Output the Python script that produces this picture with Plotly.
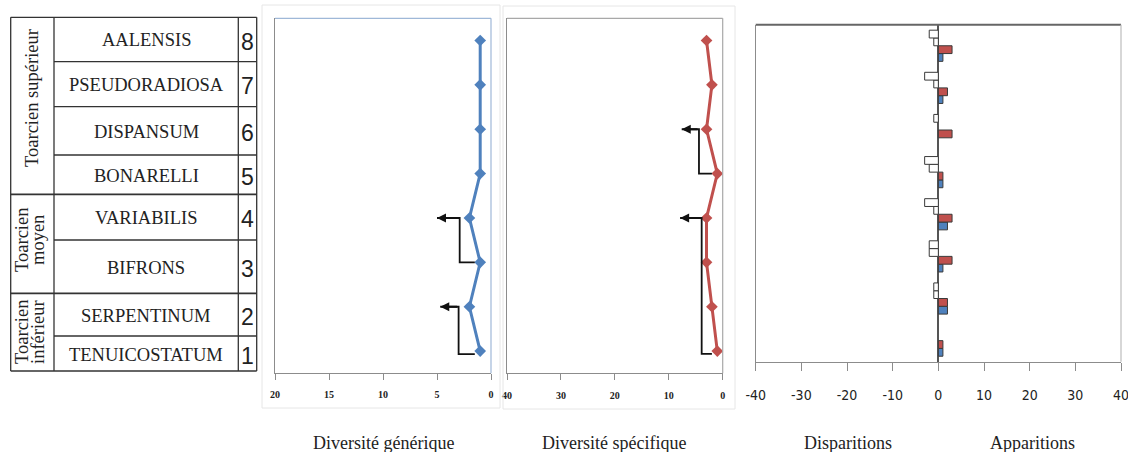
import plotly.graph_objects as go

W, H = 1128, 452

# ---------------- data ----------------
niveaux = [1, 2, 3, 4, 5, 6, 7, 8]
zones = ["TENUICOSTATUM", "SERPENTINUM", "BIFRONS", "VARIABILIS",
         "BONARELLI", "DISPANSUM", "PSEUDORADIOSA", "AALENSIS"]
etages = [["Toarcien", "inférieur"], ["Toarcien", "moyen"], ["Toarcien supérieur"]]

diversite_generique = [1, 2, 1, 2, 1, 1, 1, 1]
diversite_specifique = [1, 2, 3, 3, 1, 3, 2, 3]

disparitions_especes = [0, 1, 2, 3, 3, 1, 3, 2]
disparitions_genres = [0, 1, 2, 1, 2, 0, 1, 1]
apparitions_especes = [1, 2, 3, 3, 1, 3, 2, 3]
apparitions_genres = [1, 2, 1, 2, 1, 0, 1, 1]

ticks_gen = [20, 15, 10, 5, 0]
ticks_spe = [40, 30, 20, 10, 0]
ticks_app = [-40, -30, -20, -10, 0, 10, 20, 30, 40]
tick_app_labels = ["-40", "-30", "-20", "-10", "0", "10", "20", "30", "40"]

# bracket arrows: (start x, start level, elbow x, end level, head x)
fleches_gen = [(1.5, 3.0, 2.9, 4.0, 5.0), (1.5, 0.93, 3.0, 2.0, 4.7)]
fleches_spe = [(2.0, 5.0, 4.4, 6.0, 7.6), (2.0, 0.94, 3.9, 4.0, 7.9)]

titres = ["Diversité générique", "Diversité spécifique", "Disparitions", "Apparitions"]

# ---------------- helpers ----------------
def px(x):
    return x / W

def py(y):
    return 1 - y / H

BLUE = "#4F81BD"
RED = "#C0504D"
SERIF = "Liberation Serif, Times New Roman, serif"

fig = go.Figure()

# panel 1: generic diversity
fig.add_trace(go.Scatter(x=diversite_generique, y=niveaux, mode="lines+markers",
                         line=dict(color=BLUE, width=3),
                         marker=dict(symbol="diamond", size=9, color=BLUE),
                         xaxis="x", yaxis="y", showlegend=False))
# panel 2: specific diversity
fig.add_trace(go.Scatter(x=diversite_specifique, y=niveaux, mode="lines+markers",
                         line=dict(color=RED, width=3),
                         marker=dict(symbol="diamond", size=9, color=RED),
                         xaxis="x2", yaxis="y2", showlegend=False))

# panel 3: bars (bottom to top inside each group)
def nz(vals, sign=1):
    return [sign * v if v else None for v in vals]

bar_series = [
    (nz(apparitions_genres), BLUE),
    (nz(apparitions_especes), RED),
    (nz(disparitions_genres, -1), "white"),
    (nz(disparitions_especes, -1), "white"),
]
for vals, col in bar_series:
    fig.add_trace(go.Bar(x=vals, y=niveaux, orientation="h",
                         marker=dict(color=col, line=dict(color="#3a3a3a", width=1)),
                         xaxis="x3", yaxis="y3", showlegend=False))

# ---------------- axes ----------------
ydom1 = [py(373.3), py(18.3)]
ydom3 = [py(361.7), py(24.7)]
X3R = 1121

common_y = dict(range=[0.5, 8.5], showticklabels=False, ticks="", showgrid=False,
                zeroline=False, showline=True, linecolor="#8c8c8c", linewidth=1.2)

small_tick_font = dict(family=SERIF, size=10, color="#222", weight="bold")

fig.update_layout(
    width=W, height=H, margin=dict(l=0, r=0, t=0, b=0, autoexpand=False),
    paper_bgcolor="white", plot_bgcolor="white",
    barmode="group", bargap=0.26, bargroupgap=0,
    xaxis=dict(domain=[px(275), px(491)], range=[20, 0], tickvals=ticks_gen,
               ticks="outside", ticklen=6, tickcolor="#8c8c8c",
               showline=True, linecolor="#8c8c8c", linewidth=1.2,
               showgrid=False, zeroline=False, ticklabelstandoff=6,
               tickfont=small_tick_font, anchor="y"),
    yaxis=dict(domain=ydom1, anchor="x", **common_y),
    xaxis2=dict(domain=[px(507), px(722.7)], range=[40, 0], tickvals=ticks_spe,
                ticks="outside", ticklen=6, tickcolor="#8c8c8c",
                showline=True, linecolor="#8c8c8c", linewidth=1.2,
                showgrid=False, zeroline=False, ticklabelstandoff=7,
                tickfont=small_tick_font, anchor="y2"),
    yaxis2=dict(domain=ydom1, anchor="x2", **common_y),
    xaxis3=dict(domain=[px(755.7), px(X3R)], range=[-40, 40], tickvals=ticks_app,
                ticktext=tick_app_labels, ticklabeloverflow="allow",
                ticks="outside", ticklen=8, tickcolor="#8c8c8c",
                showline=True, linecolor="#8c8c8c", linewidth=1.2,
                showgrid=False, zeroline=True, zerolinecolor="#555", zerolinewidth=1.5,
                ticklabelstandoff=12,
                tickfont=dict(family="DejaVu Sans Condensed, Liberation Sans Narrow, sans-serif",
                              size=14, color="#222"), anchor="y3"),
    yaxis3=dict(domain=ydom3, anchor="x3", **common_y),
)

shapes = []
annotations = []

# faint chart-area frames
for (x0, y0, x1, y1) in [(262, 5, 500, 408), (503, 6, 735, 409)]:
    shapes.append(dict(type="rect", xref="paper", yref="paper",
                       x0=px(x0), x1=px(x1), y0=py(y1), y1=py(y0),
                       line=dict(color="#e6e6e6", width=1)))

# plot frames top / right
shapes += [
    dict(type="line", xref="paper", yref="paper", x0=px(275), x1=px(491), y0=py(18.3), y1=py(18.3),
         line=dict(color="#9fb8d8", width=1.2)),
    dict(type="line", xref="paper", yref="paper", x0=px(491), x1=px(491), y0=py(18.3), y1=py(373.3),
         line=dict(color="#9fb8d8", width=1.2)),
    dict(type="line", xref="paper", yref="paper", x0=px(507), x1=px(722.7), y0=py(18.3), y1=py(18.3),
         line=dict(color="#a8a8a8", width=1.2)),
    dict(type="line", xref="paper", yref="paper", x0=px(722.7), x1=px(722.7), y0=py(18.3), y1=py(373.3),
         line=dict(color="#a8a8a8", width=1.2)),
    dict(type="line", xref="paper", yref="paper", x0=px(755.7), x1=px(X3R), y0=py(24.7), y1=py(24.7),
         line=dict(color="#666", width=2)),
    dict(type="line", xref="paper", yref="paper", x0=px(X3R), x1=px(X3R), y0=py(24.7), y1=py(361.7),
         line=dict(color="#bdbdbd", width=1.2)),
]

# bracket arrows
for (xr, yr, fl) in [("x", "y", fleches_gen), ("x2", "y2", fleches_spe)]:
    for (xs, ys, xe, ye, xh) in fl:
        shapes.append(dict(type="path", xref=xr, yref=yr,
                           path=f"M {xs},{ys} L {xe},{ys} L {xe},{ye} L {xh},{ye}",
                           line=dict(color="#111", width=1.8)))
        annotations.append(dict(x=xh, y=ye, ax=xe, ay=ye, xref=xr, yref=yr, axref=xr, ayref=yr,
                                text="", showarrow=True, arrowhead=2, arrowsize=1.0,
                                arrowwidth=1.8, arrowcolor="#111"))

# ---------------- stratigraphic table ----------------
xl, xz, xn, xr_ = 10.7, 54, 238.3, 256.7
rows = [371, 336, 293.3, 240, 194.3, 155, 106.7, 61.7, 17.3]  # bottom to top boundaries
stage_bounds = [293.3, 194.3]
LC = "#333"
for x in [xl, xz, xn, xr_]:
    shapes.append(dict(type="line", xref="paper", yref="paper", x0=px(x), x1=px(x),
                       y0=py(rows[0]), y1=py(rows[-1]), line=dict(color=LC, width=1.3)))
for y in rows:
    full = y in stage_bounds or y in (rows[0], rows[-1])
    shapes.append(dict(type="line", xref="paper", yref="paper",
                       x0=px(xl if full else xz), x1=px(xr_), y0=py(y), y1=py(y),
                       line=dict(color=LC, width=1.8 if y in stage_bounds else 1.3)))

def label(x, y, text, font, angle=0):
    annotations.append(dict(x=px(x), y=py(y), xref="paper", yref="paper", text=text,
                            showarrow=False, xanchor="center", yanchor="middle",
                            textangle=angle, font=font))

for i, (z, n) in enumerate(zip(zones, niveaux)):
    yc = (rows[i] + rows[i + 1]) / 2
    label((xz + xn) / 2, yc + 1, z, dict(family=SERIF, size=18.5, color="#222"))
    label((xn + xr_) / 2, yc + 2, str(n),
          dict(family="Liberation Sans, Arial, sans-serif", size=23, color="#222"))

stage_pos = [(332, [22, 38]), (240, [22, 38]), (98, [32])]
for lines, (yc, xs) in zip(etages, stage_pos):
    for t, x in zip(lines, xs):
        label(x, yc, t, dict(family=SERIF, size=18.5, color="#222"), angle=-90)

# axis titles
for t, x in zip(titres, [383, 614, 848, 1032]):
    label(x, 443, t, dict(family=SERIF, size=18, color="#222"))

fig.update_layout(shapes=shapes, annotations=annotations)
fig.write_html("out.html", config={"displayModeBar": False},
               post_script="document.body.style.margin='0';document.body.style.overflow='hidden';")
